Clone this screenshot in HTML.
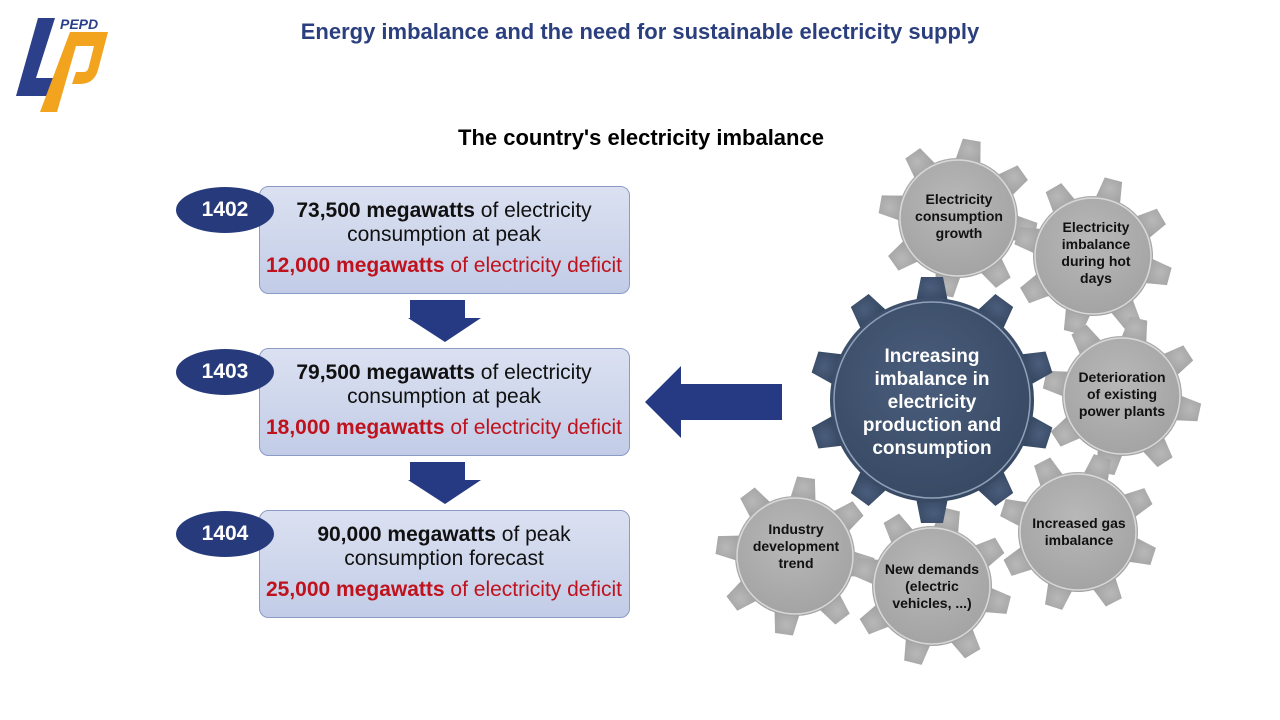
<!DOCTYPE html>
<html><head><meta charset="utf-8"><style>
body{margin:0;width:1280px;height:720px;background:#fff;overflow:hidden;font-family:"Liberation Sans",sans-serif}
svg{position:absolute;left:0;top:0}
</style></head><body>
<svg width="1280" height="720" viewBox="0 0 1280 720" font-family="Liberation Sans, sans-serif">
<defs>
<linearGradient id="bx" x1="0" y1="0" x2="0" y2="1"><stop offset="0" stop-color="#dbe1f1"/><stop offset="1" stop-color="#c2cce7"/></linearGradient>
<radialGradient id="gg" cx="0.45" cy="0.4" r="0.7"><stop offset="0" stop-color="#b8b8b8"/><stop offset="1" stop-color="#a0a0a0"/></radialGradient>
<radialGradient id="gb" cx="0.45" cy="0.4" r="0.7"><stop offset="0" stop-color="#4a5d7c"/><stop offset="1" stop-color="#34465f"/></radialGradient>
<polygon id="st" points="-13,-55 -9,-79 9,-79 13,-55"/>
<g id="sg">
<use href="#st"/>
<use href="#st" transform="rotate(45)"/>
<use href="#st" transform="rotate(90)"/>
<use href="#st" transform="rotate(135)"/>
<use href="#st" transform="rotate(180)"/>
<use href="#st" transform="rotate(225)"/>
<use href="#st" transform="rotate(270)"/>
<use href="#st" transform="rotate(315)"/>
<circle r="60"/>
</g>
<polygon id="bt" points="-16,-98 -11,-123 11,-123 16,-98"/>
</defs>
<!-- logo -->
<path d="M38 18 L55 18 L36 78 L62 78 L56 96 L16 96 Z" fill="#2b3f8a"/>
<path d="M70 32 L108 32 L98 70 Q94 84 80 84 L72 84 L76 72 L84 72 Q88 72 89 66 L94 46 L76 46 L57 112 L40 112 Z" fill="#f2a41f"/>
<text x="60" y="29" font-size="14" font-weight="bold" font-style="italic" fill="#2b3f8a">PEPD</text>

<text x="640" y="39" text-anchor="middle" font-size="22" font-weight="bold" fill="#2b3f7e">Energy imbalance and the need for sustainable electricity supply</text>
<text x="641" y="145" text-anchor="middle" font-size="22" font-weight="bold" fill="#000">The country's electricity imbalance</text>

<!-- boxes -->
<g stroke="#8b9bc6" stroke-width="1" fill="url(#bx)">
<rect x="259.5" y="186.5" width="370" height="107" rx="9"/>
<rect x="259.5" y="348.5" width="370" height="107" rx="9"/>
<rect x="259.5" y="510.5" width="370" height="107" rx="9"/>
</g>
<g fill="#263a7c">
<ellipse cx="225" cy="210" rx="49" ry="23"/>
<ellipse cx="225" cy="372" rx="49" ry="23"/>
<ellipse cx="225" cy="534" rx="49" ry="23"/>
</g>
<g fill="#fff" font-size="21" font-weight="bold" text-anchor="middle">
<text x="225" y="216">1402</text><text x="225" y="378">1403</text><text x="225" y="540">1404</text>
</g>
<g font-size="21" text-anchor="middle" fill="#111">
<text x="444" y="217"><tspan font-weight="bold">73,500 megawatts</tspan> of electricity</text>
<text x="444" y="241">consumption at peak</text>
<text x="444" y="272" fill="#c0121c"><tspan font-weight="bold">12,000 megawatts</tspan> of electricity deficit</text>
<text x="444" y="379"><tspan font-weight="bold">79,500 megawatts</tspan> of electricity</text>
<text x="444" y="403">consumption at peak</text>
<text x="444" y="434" fill="#c0121c"><tspan font-weight="bold">18,000 megawatts</tspan> of electricity deficit</text>
<text x="444" y="541"><tspan font-weight="bold">90,000 megawatts</tspan> of peak</text>
<text x="444" y="565">consumption forecast</text>
<text x="444" y="596" fill="#c0121c"><tspan font-weight="bold">25,000 megawatts</tspan> of electricity deficit</text>
</g>
<!-- arrows -->
<g fill="#263a84">
<path d="M410 300 L465 300 L465 318 L481 318 L445 342 L408 318 L410 318 Z"/>
<path d="M410 462 L465 462 L465 480 L481 480 L445 504 L408 480 L410 480 Z"/>
<path d="M782 384 L681 384 L681 366 L645 402 L681 438 L681 420 L782 420 Z"/>
</g>

<!-- small gears -->
<g fill="url(#gg)">
<use href="#sg" transform="translate(958,218) rotate(10)"/>
<use href="#sg" transform="translate(1093,256) rotate(15)"/>
<use href="#sg" transform="translate(1122,396) rotate(12)"/>
<use href="#sg" transform="translate(1078,532) rotate(18)"/>
<use href="#sg" transform="translate(795,556) rotate(8)"/>
<use href="#sg" transform="translate(932,586) rotate(14)"/>
</g>
<g fill="none" stroke="#d8d8d8" stroke-width="1.5">
<circle cx="958" cy="218" r="58"/><circle cx="1093" cy="256" r="58"/><circle cx="1122" cy="396" r="58"/>
<circle cx="1078" cy="532" r="58"/><circle cx="795" cy="556" r="58"/><circle cx="932" cy="586" r="58"/>
</g>
<!-- center gear -->
<g fill="url(#gb)" transform="translate(932,400)">
<use href="#bt"/>
<use href="#bt" transform="rotate(36)"/>
<use href="#bt" transform="rotate(72)"/>
<use href="#bt" transform="rotate(108)"/>
<use href="#bt" transform="rotate(144)"/>
<use href="#bt" transform="rotate(180)"/>
<use href="#bt" transform="rotate(216)"/>
<use href="#bt" transform="rotate(252)"/>
<use href="#bt" transform="rotate(288)"/>
<use href="#bt" transform="rotate(324)"/>
<circle r="102"/>
<circle r="98" fill="none" stroke="#8fa0b8" stroke-width="1.5"/>
</g>
<g fill="#fff" font-size="19" font-weight="bold" text-anchor="middle">
<text x="932" y="362">Increasing</text>
<text x="932" y="385">imbalance in</text>
<text x="932" y="408">electricity</text>
<text x="932" y="431">production and</text>
<text x="932" y="454">consumption</text>
</g>
<g fill="#111" font-size="14" font-weight="bold" text-anchor="middle">
<text x="959" y="204">Electricity</text><text x="959" y="221">consumption</text><text x="959" y="238">growth</text>
<text x="1096" y="232">Electricity</text><text x="1096" y="249">imbalance</text><text x="1096" y="266">during hot</text><text x="1096" y="283">days</text>
<text x="1122" y="382">Deterioration</text><text x="1122" y="399">of existing</text><text x="1122" y="416">power plants</text>
<text x="1079" y="528">Increased gas</text><text x="1079" y="545">imbalance</text>
<text x="796" y="534">Industry</text><text x="796" y="551">development</text><text x="796" y="568">trend</text>
<text x="932" y="574">New demands</text><text x="932" y="591">(electric</text><text x="932" y="608">vehicles, ...)</text>
</g>
</svg>
</body></html>
